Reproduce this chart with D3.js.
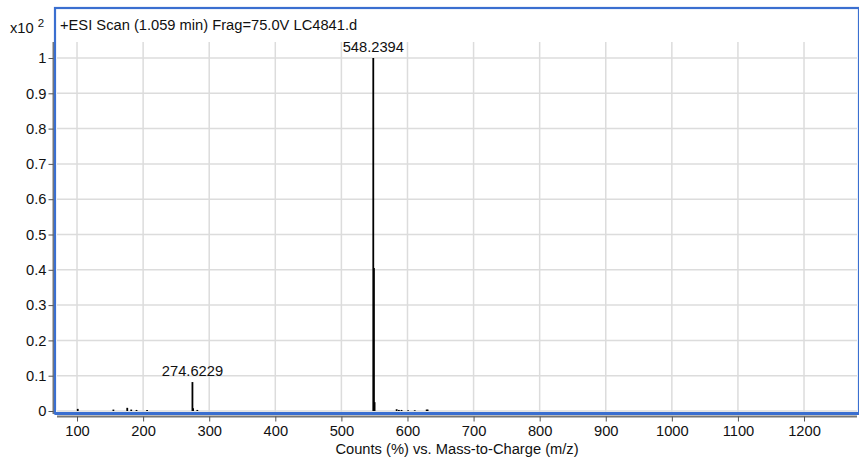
<!DOCTYPE html>
<html><head><meta charset="utf-8">
<script src="https://cdn.jsdelivr.net/npm/d3@7"></script>
<style>body{margin:0;background:#fff}text{font-family:"Liberation Sans",Arial,sans-serif;fill:#111}</style>
</head><body><svg id="c" width="859" height="459"></svg>
<script>
const title = "+ESI Scan (1.059 min) Frag=75.0V LC4841.d";
const xTicks = [100,200,300,400,500,600,700,800,900,1000,1100,1200];
const yTicks = [0,0.1,0.2,0.3,0.4,0.5,0.6,0.7,0.8,0.9,1];
const peakMz = [101.1, 155.0, 176.0, 182.0, 190.0, 206.0, 274.6229, 275.6, 282.0, 548.2394, 549.24, 550.24, 583.6, 587.0, 591.0, 601.0, 611.0, 629.0, 630.5];
const peakInt = [0.006, 0.004, 0.009, 0.004, 0.003, 0.003, 0.082, 0.008, 0.003, 1.0, 0.405, 0.025, 0.005, 0.003, 0.003, 0.002, 0.002, 0.004, 0.004];
const labels = [{mz:548.2394, v:1.0, t:"548.2394"},{mz:274.6229, v:0.082, t:"274.6229"}];
const FS = 14.7;

const svg = d3.select("#c");
const x = d3.scaleLinear().domain([70,1280]).range([57.2,856.9]);
const y = d3.scaleLinear().domain([0,1]).range([411,58]);

// grid
svg.append("g").selectAll("line").data(xTicks).join("line")
  .attr("x1",d=>x(d)).attr("x2",d=>x(d)).attr("y1",42).attr("y2",412)
  .attr("stroke","#dcdcdc").attr("stroke-width",1.5);
svg.append("g").selectAll("line").data(yTicks).join("line")
  .attr("x1",57).attr("x2",857).attr("y1",d=>y(d)).attr("y2",d=>y(d))
  .attr("stroke","#dcdcdc").attr("stroke-width",1.5);

// axes
const yAxis = d3.axisLeft(y).tickValues(yTicks).tickFormat(d=>d===0?"0":d===1?"1":d3.format(".1f")(d)).tickSize(5).tickPadding(2);
const gy = svg.append("g").attr("transform","translate(53.5,0)").call(yAxis);
gy.select(".domain").attr("d","M0,42V414").attr("stroke","#777").attr("stroke-width",2);
gy.selectAll(".tick line").attr("stroke","#555");
gy.selectAll("text").attr("font-size",FS).style("font-family","'Liberation Sans',Arial,sans-serif").attr("fill","#111");

const xAxis = d3.axisBottom(x).tickValues(xTicks).tickFormat(d3.format("d")).tickSize(5).tickPadding(4);
const gx = svg.append("g").attr("transform","translate(0,416.5)").call(xAxis);
gx.select(".domain").attr("d","M57,0H857").attr("stroke","#777").attr("stroke-width",2);
gx.selectAll(".tick line").attr("stroke","#555");
gx.selectAll("text").attr("font-size",FS).style("font-family","'Liberation Sans',Arial,sans-serif").attr("fill","#111");

// peaks
svg.append("g").selectAll("line").data(peakMz).join("line")
  .attr("x1",d=>x(d)).attr("x2",d=>x(d))
  .attr("y1",y(0)).attr("y2",(d,i)=>y(peakInt[i]))
  .attr("stroke","#000").attr("stroke-width",1.8);

svg.append("g").selectAll("text").data(labels).join("text")
  .attr("x",d=>x(d.mz)).attr("y",d=>y(d.v)-6)
  .attr("text-anchor","middle").attr("font-size",FS).text(d=>d.t);

// blue frame
svg.append("rect").attr("x",55).attr("y",8).attr("width",804).attr("height",405.5)
  .attr("fill","none").attr("stroke","#3a6fd0").attr("stroke-width",2.2);
svg.append("line").attr("x1",55).attr("x2",859).attr("y1",413.5).attr("y2",413.5)
  .attr("stroke","#3a6fd0").attr("stroke-width",3);

svg.append("text").attr("x",60).attr("y",30).attr("font-size",FS).text(title);
const xt = svg.append("text").attr("x",10).attr("y",33).attr("font-size",FS);
xt.append("tspan").text("x10 ");
xt.append("tspan").attr("dy",-6).attr("font-size",11.5).text("2");

svg.append("text").attr("x",457).attr("y",454).attr("text-anchor","middle").attr("font-size",FS)
  .text("Counts (%) vs. Mass-to-Charge (m/z)");
</script></body></html>
